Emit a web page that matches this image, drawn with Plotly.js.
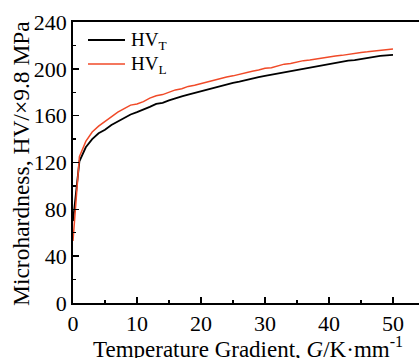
<!DOCTYPE html>
<html><head><meta charset="utf-8">
<script src="https://cdn.plot.ly/plotly-3.0.1.min.js"></script>
<style>html,body{margin:0;padding:0;overflow:hidden;background:#fff}#c{width:430px;height:358px}</style>
</head><body><div id="c"></div>
<script>
const gradient = [0,1,2,3,4,5,6,7,8,9,10,11,12,13,14,15,16,17,18,19,20,21,22,23,24,25,26,27,28,29,30,31,32,33,34,35,36,37,38,39,40,41,42,43,44,45,46,47,48,49,50];
const hvT = [70,121,133,140,145,148,152,155,158,161,163,165,167.5,170,171,173,175,176.5,178,179.5,181,182.5,184,185,186.5,188,189,190.5,192,193,194,195,196,197.5,198.5,199.5,200.5,201.5,202.5,203.5,204.5,205,206,207,207.5,208.5,209.5,210,211,211.5,212];
const hvL = [53,125,138,146,151,155,159,163,166,169,170,172,175,177,178,180,182,183,185,186,187.5,189,190,191.5,193,194,195.5,197,198,199,200.5,201,202.5,204,204.5,206,207,207.5,208.5,209.5,210,211,211.5,212.5,213,214,214.5,215,216,216.5,217];
const xTicks = [0,10,20,30,40,50];
const yTicks = [0,40,80,120,160,200,240];
const seriesNames = ['HV<sub>T</sub>', 'HV<sub>L</sub>'];
const seriesColors = ['#000000', '#f04a28'];
const seriesWidths = [1.8, 1.5];

const font = 'Liberation Serif, Times New Roman, serif';
const data = [
  {x: gradient, y: hvT, mode: 'lines', name: seriesNames[0], line: {color: seriesColors[0], width: seriesWidths[0]}},
  {x: gradient, y: hvL, mode: 'lines', name: seriesNames[1], line: {color: seriesColors[1], width: seriesWidths[1]}}
];
const axisCommon = {showgrid: false, zeroline: false, showline: true, linecolor: '#000', linewidth: 1.8,
  mirror: true, ticks: 'inside', ticklen: 6, tickwidth: 1.5, tickcolor: '#000',
  tickfont: {family: font, size: 22, color: '#000'},
  minor: {ticks: 'inside', ticklen: 3, tickwidth: 1.2, tickcolor: '#000'}};

// manual legend (paper coords: plot area 73..425 px wide, 22..303 px tall)
const W = 352, H = 281, L0 = 73, T0 = 22;
const px = v => (v - L0) / W, py = v => 1 - (v - T0) / H;
const legendY = [40, 64];
const shapes = [], annotations = [];
seriesNames.forEach((n, i) => {
  shapes.push({type: 'line', xref: 'paper', yref: 'paper', x0: px(88), x1: px(125), y0: py(legendY[i]), y1: py(legendY[i]),
    line: {color: seriesColors[i], width: seriesWidths[i]}});
  annotations.push({xref: 'paper', yref: 'paper', x: px(129), y: py(legendY[i] + 1), xanchor: 'left', yanchor: 'middle',
    showarrow: false, text: n, font: {family: font, size: 19, color: '#000'}});
});
annotations.push({xref: 'paper', yref: 'paper', x: px(248), y: py(347.5), xanchor: 'center', yanchor: 'middle',
  showarrow: false, text: 'Temperature Gradient, <i>G</i>/K·mm<sup>-1</sup>', font: {family: font, size: 23, color: '#000'}});
annotations.push({xref: 'paper', yref: 'paper', x: px(21), y: py(164), xanchor: 'center', yanchor: 'middle', textangle: -90,
  showarrow: false, text: 'Microhardness, HV/×9.8 MPa', font: {family: font, size: 23.5, color: '#000'}});

const layout = {
  width: 430, height: 358,
  margin: {l: 73, r: 5, t: 22, b: 55},
  paper_bgcolor: '#fff', plot_bgcolor: '#fff',
  font: {family: font, color: '#000'},
  xaxis: Object.assign({}, axisCommon, {range: [0, 55], tickvals: xTicks, ticktext: xTicks.map(String),
    minor: Object.assign({}, axisCommon.minor, {dtick: 5, tick0: 0})}),
  yaxis: Object.assign({}, axisCommon, {range: [0, 240], tickvals: yTicks, ticktext: yTicks.map(String),
    minor: Object.assign({}, axisCommon.minor, {dtick: 20, tick0: 0})}),
  showlegend: false,
  shapes: shapes,
  annotations: annotations
};
Plotly.newPlot('c', data, layout, {displayModeBar: false, staticPlot: true});
</script></body></html>
